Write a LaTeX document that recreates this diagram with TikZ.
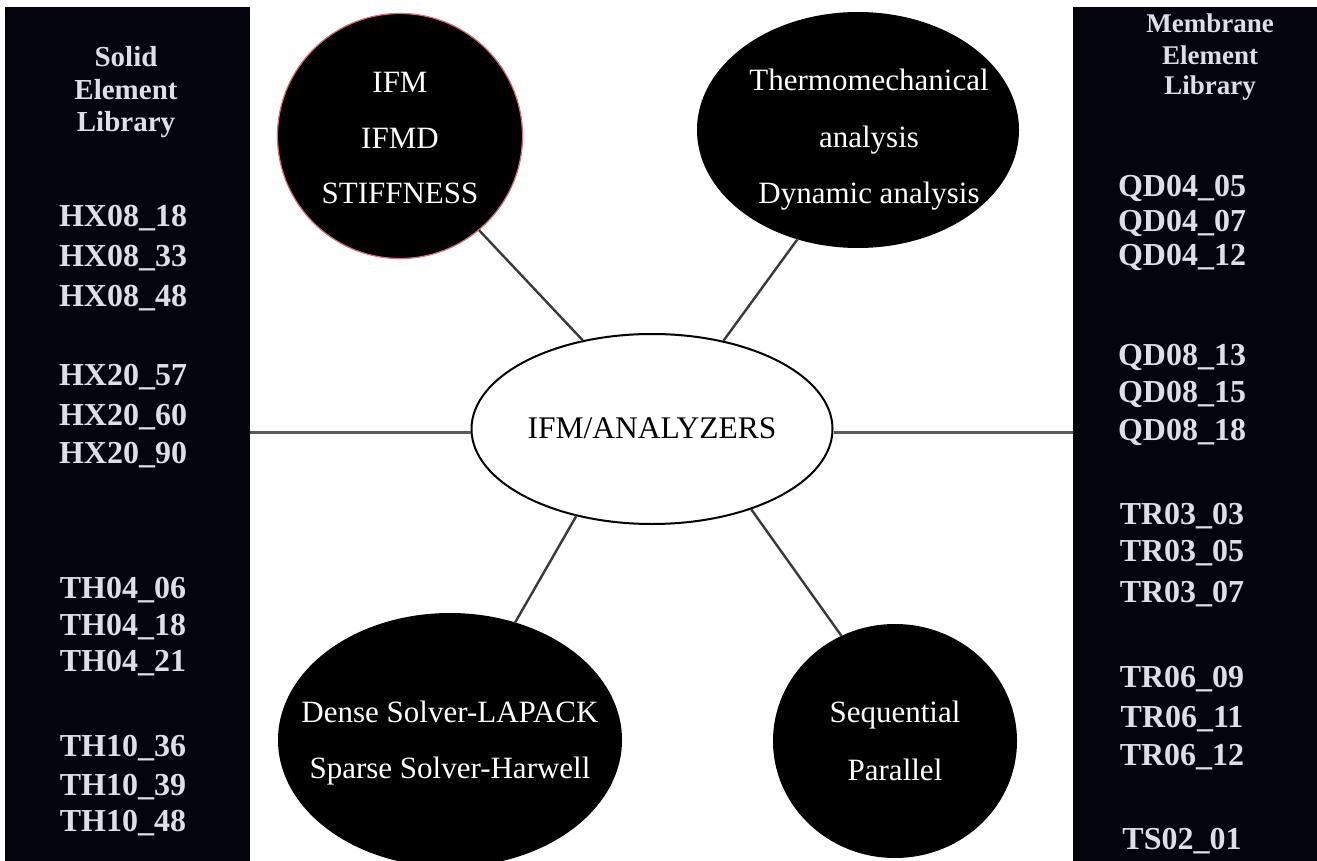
\documentclass[tikz,border=0pt]{standalone}
\usepackage{fontspec}
\setmainfont{Liberation Serif}
\usetikzlibrary{shapes.geometric}
\definecolor{panelbg}{HTML}{04040C}
\definecolor{libtext}{HTML}{DCDFE8}
\definecolor{linkgray}{HTML}{3A3A3A}
\definecolor{hgray}{HTML}{5A5A5A}
\definecolor{ifmborder}{HTML}{E06878}
\begin{document}
\begin{tikzpicture}[x=1pt,y=-1pt,
  panel/.style={fill=panelbg,draw=none,inner sep=0,anchor=north west},
  libitem/.style={text=libtext,inner sep=0,anchor=center,font=\bfseries\fontsize{32}{32}\selectfont},
  libhead/.style={text=libtext,inner sep=0,anchor=center,font=\bfseries\fontsize{29}{29}\selectfont},
  bubble/.style={ellipse,fill=black,inner sep=0},
  bubtext/.style={text=white,inner sep=0,align=center},
  hub/.style={ellipse,draw=black,line width=2pt,fill=white,inner sep=0},
  hubtext/.style={inner sep=0,font=\fontsize{31.5}{31.5}\selectfont},
  link/.style={draw=linkgray,line width=2.4pt},
  hlink/.style={draw=hgray,line width=3pt}
]
\useasboundingbox (0,0) rectangle (1317,861);
\fill[white] (0,0) rectangle (1317,861);

% panels
\node[panel,minimum width=245,minimum height=854] (solid) at (5,7) {};
\node[panel,minimum width=244,minimum height=854] (membrane) at (1073,7) {};

% left panel texts
\foreach \t/\y [count=\i] in {Solid/57,Element/90,Library/125}
  \node[libhead] (sh\i) at (126,\y) {\t};
\foreach \t/\y [count=\i] in {HX08\_18/218,HX08\_33/258,HX08\_48/298,
    HX20\_57/377,HX20\_60/417,HX20\_90/455,
    TH04\_06/590,TH04\_18/627,TH04\_21/663,
    TH10\_36/748,TH10\_39/787,TH10\_48/823}
  \node[libitem] (si\i) at (123,\y) {\t};

% right panel texts
\foreach \t/\y [count=\i] in {Membrane/23,Element/55,Library/88}
  \node[libhead,font=\bfseries\fontsize{27}{27}\selectfont] (mh\i) at (1210,\y) {\t};
\foreach \t/\y [count=\i] in {QD04\_05/188,QD04\_07/223,QD04\_12/257,
    QD08\_13/357,QD08\_15/394,QD08\_18/432,
    TR03\_03/516,TR03\_05/553,TR03\_07/594,
    TR06\_09/679,TR06\_11/719,TR06\_12/757,
    TS02\_01/841}
  \node[libitem] (mi\i) at (1182,\y) {\t};

% bubbles
\node[bubble,draw=ifmborder,line width=1.2pt,minimum width=245,minimum height=245] (ifm) at (400,136) {};
\node[bubtext,font=\fontsize{31}{55.5}\selectfont] (ifmtext) at (400,138.5) {IFM\\IFMD\\STIFFNESS};

\node[bubble,minimum width=322,minimum height=236] (thermo) at (858,130) {};
\node[bubtext,font=\fontsize{31}{56.5}\selectfont] (thermotext) at (869,140) {Thermomechanical\\analysis\\Dynamic analysis};

\node[bubble,minimum width=344,minimum height=254] (dense) at (450,740) {};
\node[bubtext,font=\fontsize{31}{56}\selectfont] (densetext) at (450,743) {Dense Solver-LAPACK\\Sparse Solver-Harwell};

\node[bubble,minimum width=244,minimum height=234] (seq) at (895,741) {};
\node[bubtext,font=\fontsize{31}{58}\selectfont] (seqtext) at (895,741) {Sequential\\Parallel};

% hub
\node[hub,minimum width=361,minimum height=190] (hub) at (652,429) {};
\node[hubtext] (hubtext) at (652,428) {IFM/ANALYZERS};

% connectors
\draw[hlink] (solid.east |- 0,432) coordinate (sj) -- (hub.west |- sj);
\draw[hlink] (hub.east |- 0,432) coordinate (mj) -- (membrane.west |- mj);
\draw[link] (ifm.-50) -- (hub.128.5);
\draw[link] (thermo.-119) -- (hub.51);
\draw[link] (dense.61) -- (hub.-131.8);
\draw[link] (seq.117) -- (hub.-39.6);
\end{tikzpicture}
\end{document}
